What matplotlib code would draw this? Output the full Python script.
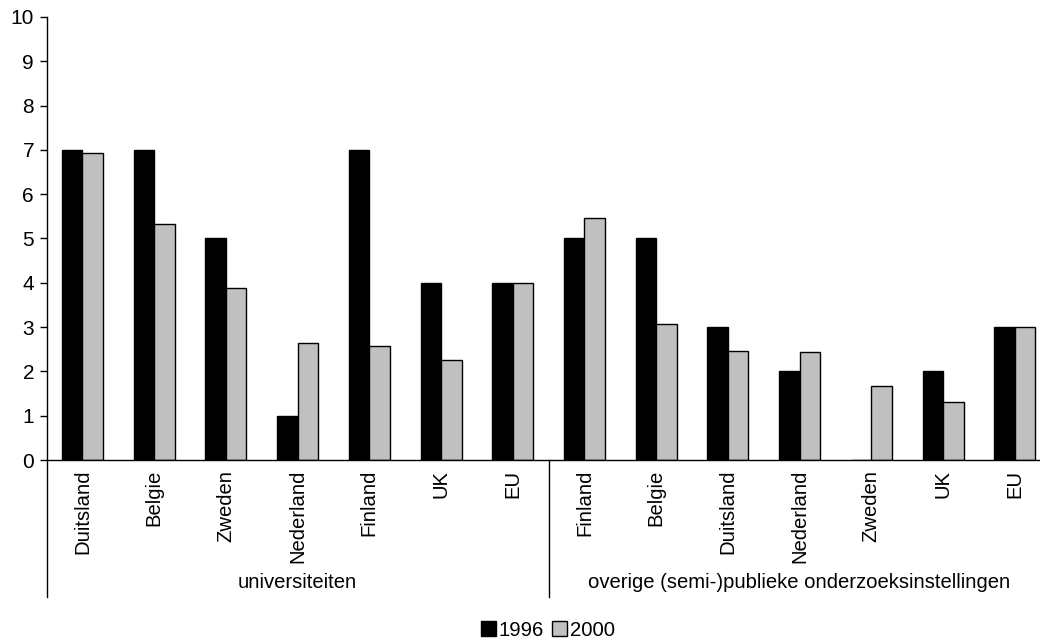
import matplotlib
matplotlib.use("Agg")
import matplotlib.pyplot as plt
from matplotlib.lines import Line2D
from matplotlib.patches import Patch

plt.rcParams['font.family'] = ['Liberation Sans', 'DejaVu Sans']

categories = ["Duitsland", "Belgie", "Zweden", "Nederland", "Finland", "UK", "EU",
              "Finland", "Belgie", "Duitsland", "Nederland", "Zweden", "UK", "EU"]
groups = ["universiteiten", "overige (semi-)publieke onderzoeksinstellingen"]
group_sizes = [7, 7]
values_1996 = [7, 7, 5, 1, 7, 4, 4,
               5, 5, 3, 2, 0, 2, 3]
values_2000 = [6.92, 5.32, 3.88, 2.64, 2.58, 2.26, 4.0,
               5.47, 3.08, 2.47, 2.43, 1.68, 1.31, 3.0]
series_labels = ["1996", "2000"]
yticks = list(range(0, 11))

FS = 14.6
W, H = 1040, 642
fig = plt.figure(figsize=(W / 100, H / 100), dpi=100)
ax = fig.add_axes([46.6 / W, 182 / H, 1004 / W, 443 / H])

n = len(categories)
xs = [i + 0.5 for i in range(n)]
bw = 0.286
ax.bar([x - bw / 2 for x in xs], values_1996, width=bw, color="black",
       edgecolor="black", linewidth=1.0, label=series_labels[0])
ax.bar([x + bw / 2 for x in xs], values_2000, width=bw, color="#C0C0C0",
       edgecolor="black", linewidth=1.0, label=series_labels[1])

ax.set_xlim(0, n)
ax.set_ylim(0, 10)
ax.set_yticks(yticks)
ax.tick_params(axis="y", length=5, width=1, direction="out", labelsize=FS + 0.4, pad=4)
ax.set_xticks(xs)
ax.set_xticklabels(categories, rotation=90, fontsize=FS, va="top", ha="center")
ax.tick_params(axis="x", length=0, pad=7)

for s in ["top", "right"]:
    ax.spines[s].set_visible(False)
ax.spines["left"].set_linewidth(1)
ax.spines["bottom"].set_linewidth(1)

# vertical lines framing the category groups below the axis
low = -(597 - 460) / 44.3
bounds = [0]
for g in group_sizes:
    bounds.append(bounds[-1] + g)
for b in bounds[:-1]:
    ax.add_line(Line2D([b, b], [0, low], color="black", linewidth=1, clip_on=False))

# group labels
for gi, g in enumerate(groups):
    cx = (bounds[gi] + bounds[gi + 1]) / 2
    ax.text(cx, -(583 - 460) / 44.3, g, ha="center", va="center", fontsize=FS)

handles = [Patch(facecolor="black", edgecolor="black", linewidth=1),
           Patch(facecolor="#C0C0C0", edgecolor="black", linewidth=1)]
fig.legend(handles, series_labels, loc="center", bbox_to_anchor=(548 / W, 1 - 630 / H),
           ncol=2, frameon=False, fontsize=FS, handlelength=0.75, handleheight=0.75,
           handletextpad=0.15, columnspacing=0.4, borderpad=0)

fig.savefig("out.png", dpi=100)
